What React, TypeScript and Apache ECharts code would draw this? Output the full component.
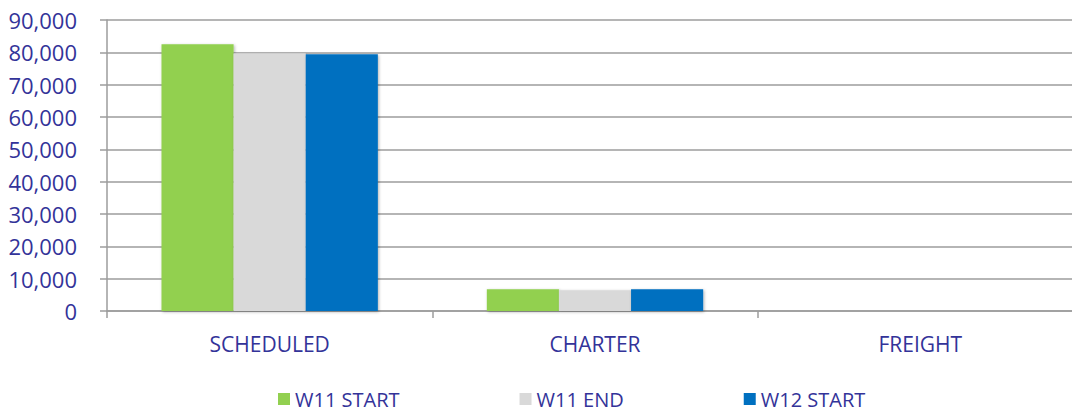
import React, { useEffect, useRef } from "react";
import * as echarts from "echarts";

const categories = ["SCHEDULED", "CHARTER", "FREIGHT"];
const seriesNames = ["W11 START", "W11 END", "W12 START"];
const w11Start = [82500, 6700, 0];
const w11End = [79700, 6400, 0];
const w12Start = [79400, 6700, 0];
const colors = ["#92d050", "#d9d9d9", "#0070c0"];

const textColor = "#333399";
const font = "'Open Sans', sans-serif";

export default function App() {
  const ref = useRef<HTMLDivElement>(null);
  useEffect(() => {
    if (!ref.current) return;
    const chart = echarts.init(ref.current, undefined, { renderer: "svg" });
    const values = [w11Start, w11End, w12Start];
    chart.setOption({
      animation: false,
      grid: { left: 107, right: 7, top: 20, bottom: 100, containLabel: false },
      legend: {
        left: 273,
        top: 384,
        itemWidth: 12,
        itemHeight: 12,
        itemGap: 120,
        icon: "rect",
        textStyle: { color: textColor, fontFamily: font, fontSize: 20, padding: [0, 0, 0, 0] },
        data: seriesNames,
      },
      xAxis: {
        type: "category",
        data: categories,
        axisLine: { show: true, lineStyle: { color: "#9c9c9c", width: 1.5 } },
        axisTick: { show: true, length: 7, lineStyle: { color: "#9c9c9c", width: 1.5 } },
        axisLabel: { color: textColor, fontFamily: font, fontSize: 21, margin: 22 },
      },
      yAxis: {
        type: "value",
        min: 0,
        max: 90000,
        interval: 10000,
        axisLine: { show: true, lineStyle: { color: "#9c9c9c", width: 1.5 } },
        axisTick: { show: true, length: 7, lineStyle: { color: "#9c9c9c", width: 1.5 } },
        splitLine: { show: true, lineStyle: { color: "#9c9c9c", width: 1.5 } },
        axisLabel: {
          color: textColor,
          fontFamily: font,
          fontSize: 22,
          margin: 30,
          formatter: (v: number) => v.toLocaleString("en-US"),
        },
      },
      series: seriesNames.map((name, i) => ({
        name,
        type: "bar",
        data: values[i],
        barGap: "0%",
        barCategoryGap: "33.5%",
        itemStyle: {
          color: colors[i],
          shadowBlur: 3,
          shadowColor: "rgba(0,0,0,0.3)",
          shadowOffsetX: 1,
          shadowOffsetY: 1,
        },
      })),
    });
    return () => chart.dispose();
  }, []);
  return (
    <div
      style={{ position: "absolute", left: 0, top: 0, width: 1072, height: 411, overflow: "hidden", background: "#fff" }}
    >
      <div ref={ref} style={{ width: 1090, height: 411 }} />
    </div>
  );
}
